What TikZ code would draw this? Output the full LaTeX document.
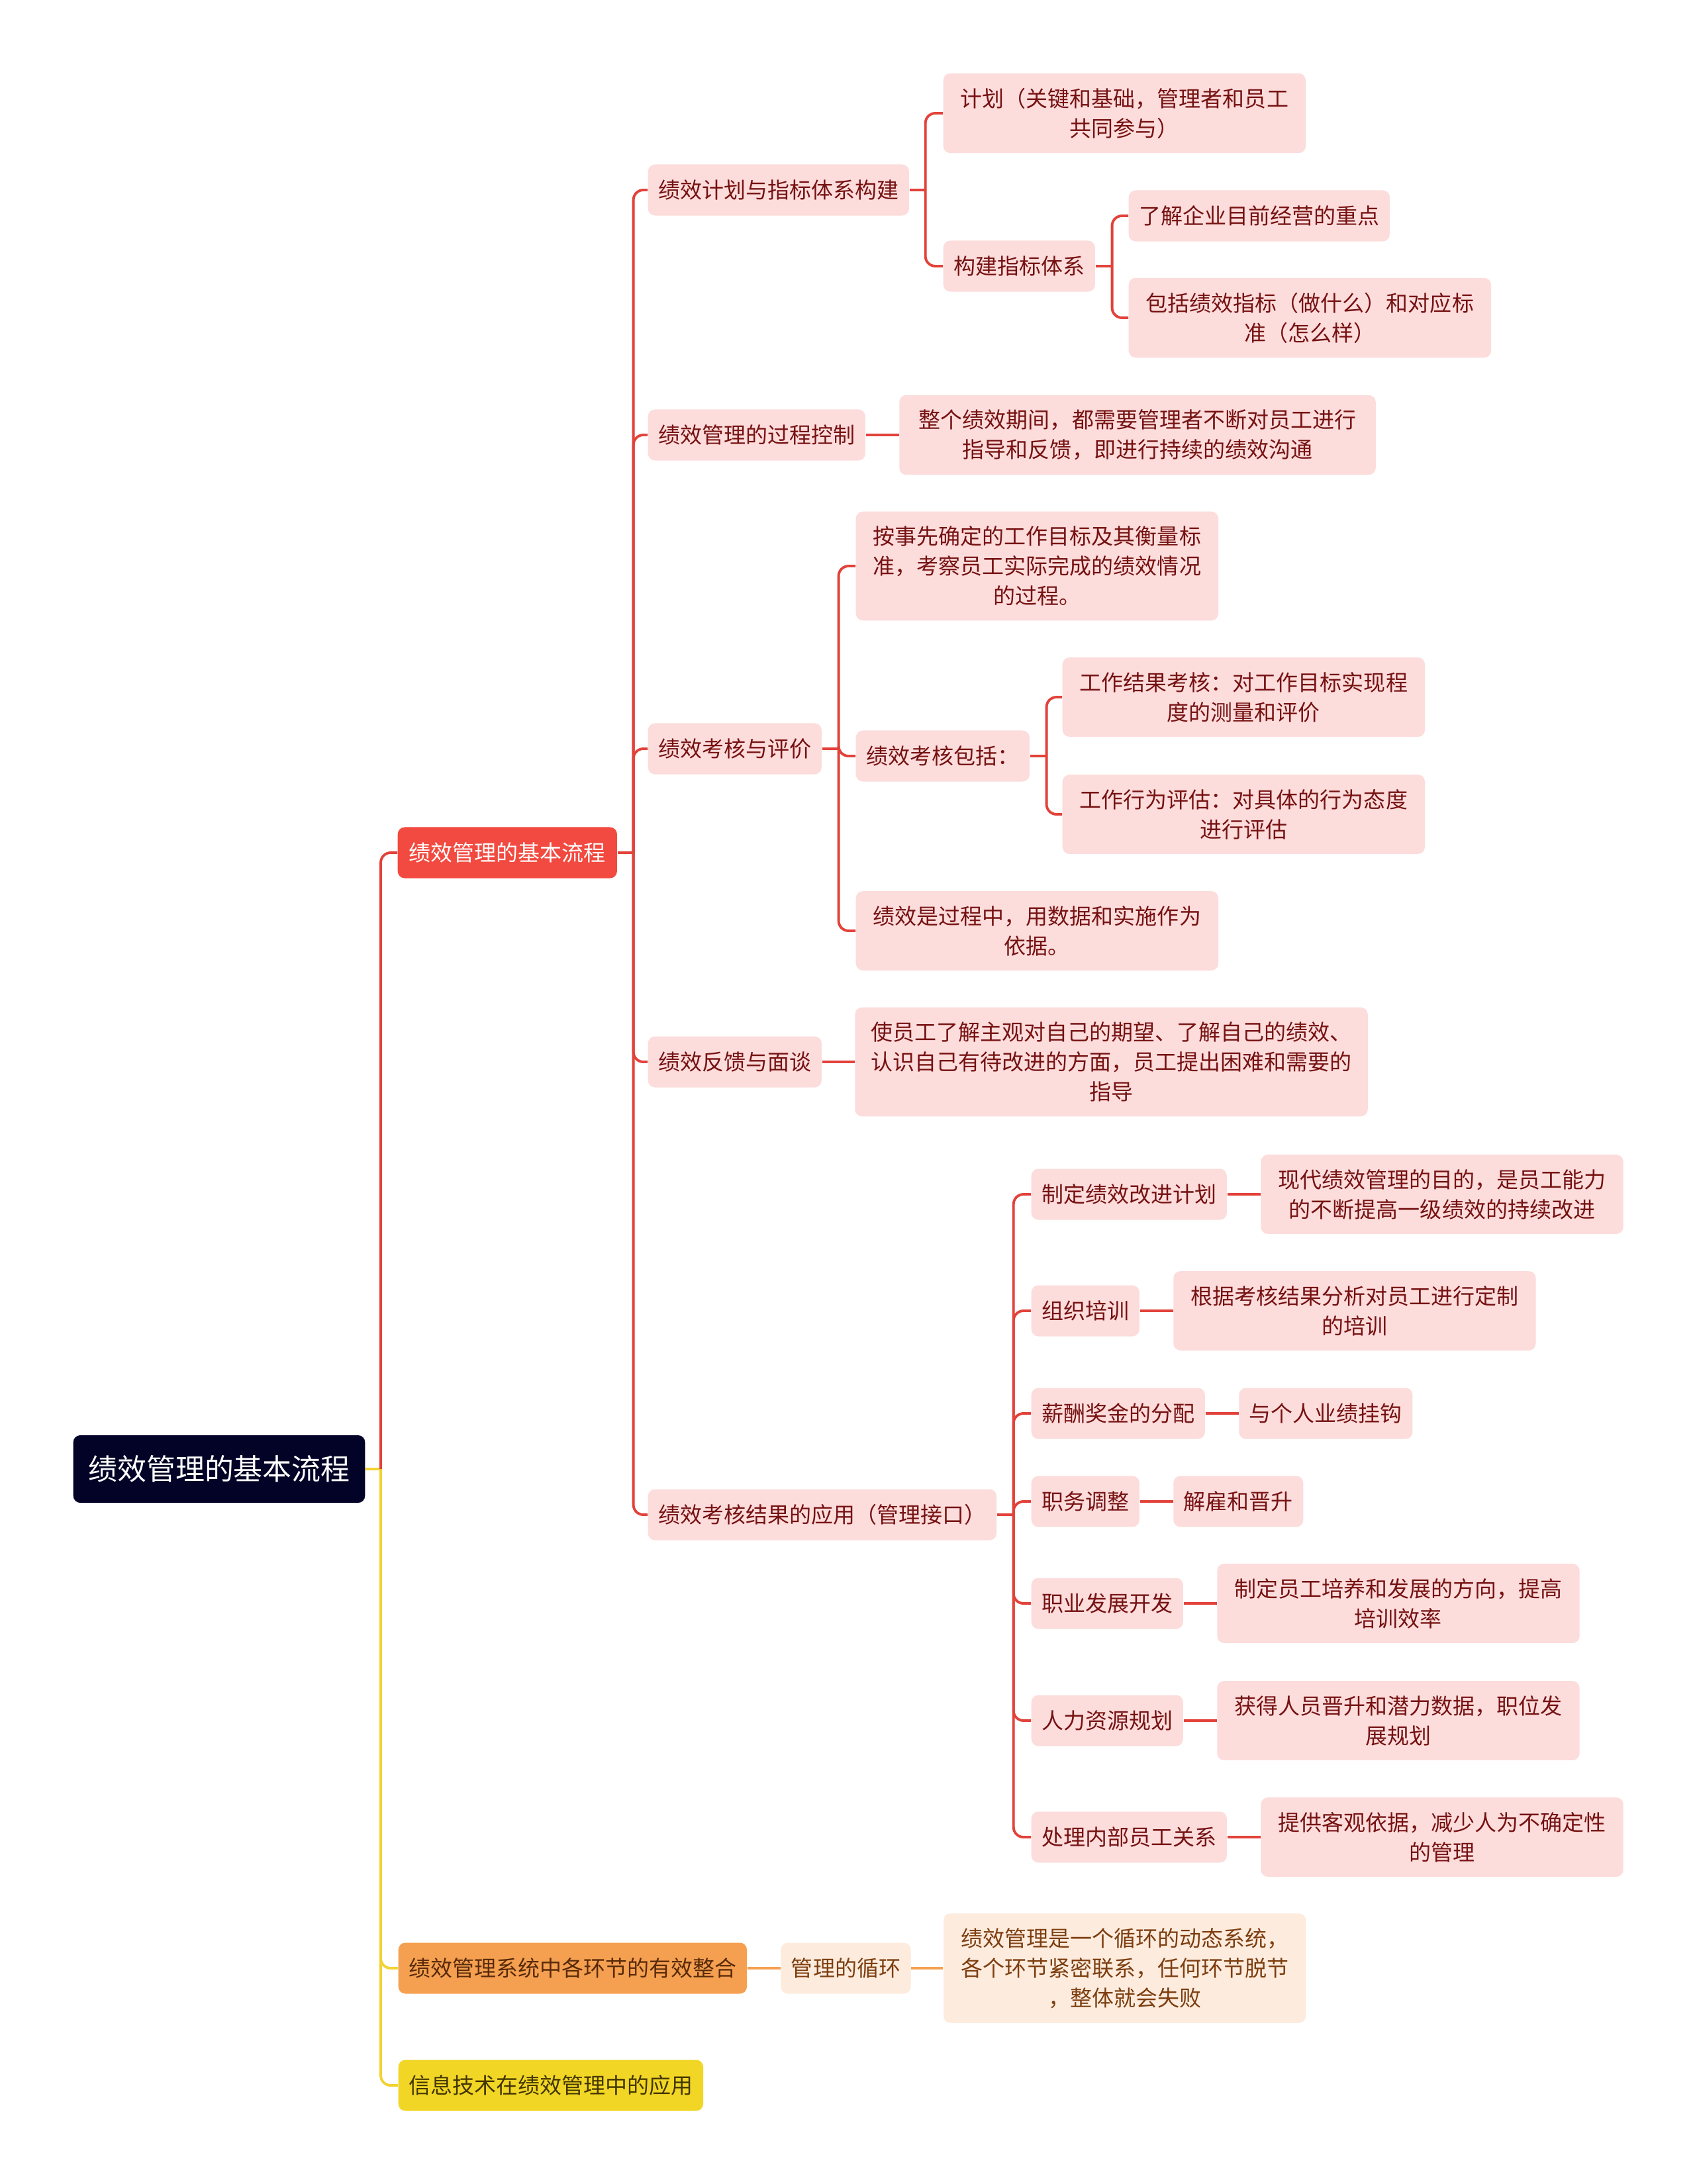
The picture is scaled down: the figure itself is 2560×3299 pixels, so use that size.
\documentclass[tikz,border=0pt]{standalone}
\usepackage{fontspec}
\newfontfamily\cjk{Noto Sans CJK SC}
\usepackage{tikz}
\usetikzlibrary{positioning}
\definecolor{rootnavy}{RGB}{2,3,38}
\definecolor{mainfill}{RGB}{242,74,64}
\definecolor{linkred}{RGB}{226,66,58}
\definecolor{leafpink}{RGB}{253,220,220}
\definecolor{leaftext}{RGB}{118,18,18}
\definecolor{orangefill}{RGB}{245,160,80}
\definecolor{orangetext}{RGB}{88,42,10}
\definecolor{linkorange}{RGB}{245,160,80}
\definecolor{peachfill}{RGB}{253,236,222}
\definecolor{peachtext}{RGB}{125,62,16}
\definecolor{yellowfill}{RGB}{242,214,38}
\definecolor{yellowtext}{RGB}{66,54,0}
\definecolor{linkyellow}{RGB}{242,210,50}

\begin{document}
\begin{tikzpicture}[
    x=0.01cm, y=-0.01cm,
    box/.style={rectangle, rounded corners=3pt, anchor=west, align=center,
                font=\cjk\fontsize{9.39pt}{12.8pt}\selectfont,
                inner xsep=0.155cm, inner ysep=0.22cm, minimum height=0.77cm},
    leaf/.style={box, fill=leafpink, text=leaftext},
    wide/.style={leaf, text width=5.16cm},
    redlink/.style={draw=linkred, line width=1.1pt, rounded corners=0.15cm},
    orangelink/.style={redlink, draw=linkorange},
    yellowlink/.style={redlink, draw=linkyellow}
]
\useasboundingbox[fill=white] (0,0) rectangle (2560,3299);

% root and first level
\node[box, anchor=center, fill=rootnavy, text=white,
      font=\cjk\fontsize{12.5pt}{15pt}\selectfont,
      inner xsep=0.225cm, minimum height=1.02cm] (rootbox) at (331,2219) {绩效管理的基本流程};
\node[box, fill=mainfill, text=white, inner xsep=0.17cm] (flow) at (600,1288) {绩效管理的基本流程};
\node[box, fill=orangefill, text=orangetext] (integ) at (601,2973) {绩效管理系统中各环节的有效整合};
\node[box, fill=yellowfill, text=yellowtext] (infotech) at (601,3150) {信息技术在绩效管理中的应用};
\node[box, fill=peachfill, text=peachtext, right=0.5cm of integ] (cycle) {管理的循环};
\node[box, fill=peachfill, text=peachtext, text width=5.16cm, right=0.48cm of cycle] (cycledesc)
    {绩效管理是一个循环的动态系统，\\各个环节紧密联系，任何环节脱节\\，整体就会失败};

% second level
\node[leaf] (plan) at (978,287) {绩效计划与指标体系构建};
\node[leaf] (proc) at (978,657) {绩效管理的过程控制};
\node[leaf] (eval) at (978,1131) {绩效考核与评价};
\node[leaf] (feed) at (978,1604) {绩效反馈与面谈};
\node[leaf] (apply) at (978,2288) {绩效考核结果的应用（管理接口）};

\node[wide] (plandesc) at (1424,171) {计划（关键和基础，管理者和员工\\共同参与）};
\node[leaf] (build) at (1424,402) {构建指标体系};
\node[leaf] (focus) at (1704,326) {了解企业目前经营的重点};
\node[wide] (indic) at (1704,480) {包括绩效指标（做什么）和对应标\\准（怎么样）};

\node[leaf, text width=6.88cm, right=0.5cm of proc] (procdesc)
    {整个绩效期间，都需要管理者不断对员工进行\\指导和反馈，即进行持续的绩效沟通};

\node[wide] (evaldef) at (1292,855) {按事先确定的工作目标及其衡量标\\准，考察员工实际完成的绩效情况\\的过程。};
\node[leaf] (evalinc) at (1292,1142) {绩效考核包括：};
\node[wide] (evalbasis) at (1292,1406) {绩效是过程中，用数据和实施作为\\依据。};
\node[wide] (result) at (1604,1053) {工作结果考核：对工作目标实现程\\度的测量和评价};
\node[wide] (behav) at (1604,1230) {工作行为评估：对具体的行为态度\\进行评估};

\node[leaf, text width=7.43cm, right=0.49cm of feed] (feeddesc)
    {使员工了解主观对自己的期望、了解自己的绩效、\\认识自己有待改进的方面，员工提出困难和需要的\\指导};

\node[leaf] (improve) at (1557,1804) {制定绩效改进计划};
\node[leaf] (train) at (1557,1980) {组织培训};
\node[leaf] (pay) at (1557,2135) {薪酬奖金的分配};
\node[leaf] (post) at (1557,2268) {职务调整};
\node[leaf] (career) at (1557,2422) {职业发展开发};
\node[leaf] (hrplan) at (1557,2599) {人力资源规划};
\node[leaf] (relation) at (1557,2775) {处理内部员工关系};

\node[wide, right=0.5cm of improve] (improvedesc) {现代绩效管理的目的，是员工能力\\的不断提高一级绩效的持续改进};
\node[wide, right=0.5cm of train] (traindesc) {根据考核结果分析对员工进行定制\\的培训};
\node[leaf, right=0.5cm of pay] (paydesc) {与个人业绩挂钩};
\node[leaf, right=0.5cm of post] (postdesc) {解雇和晋升};
\node[wide, right=0.5cm of career] (careerdesc) {制定员工培养和发展的方向，提高\\培训效率};
\node[wide, right=0.5cm of hrplan] (hrplandesc) {获得人员晋升和潜力数据，职位发\\展规划};
\node[wide, right=0.5cm of relation] (relationdesc) {提供客观依据，减少人为不确定性\\的管理};

% connectors
\draw[yellowlink] (rootbox.east) -- ++(0.23cm,0) coordinate (trunk);
\draw[redlink] (trunk) |- (flow.west);
\draw[yellowlink] (trunk) |- (integ.west);
\draw[yellowlink] (trunk) |- (infotech.west);
\draw[orangelink] (integ.east) -- (cycle.west);
\draw[orangelink] (cycle.east) -- (cycledesc.west);

\draw[redlink] (flow.east) -- ++(0.24cm,0) coordinate (flow-j);
\foreach \c in {plan,proc,eval,feed,apply} \draw[redlink] (flow-j) |- (\c.west);

\draw[redlink] (plan.east) -- ++(0.24cm,0) coordinate (plan-j);
\foreach \c in {plandesc,build} \draw[redlink] (plan-j) |- (\c.west);
\draw[redlink] (build.east) -- ++(0.25cm,0) coordinate (build-j);
\foreach \c in {focus,indic} \draw[redlink] (build-j) |- (\c.west);

\draw[redlink] (proc.east) -- (procdesc.west);

\draw[redlink] (eval.east) -- ++(0.25cm,0) coordinate (eval-j);
\foreach \c in {evaldef,evalinc,evalbasis} \draw[redlink] (eval-j) |- (\c.west);
\draw[redlink] (evalinc.east) -- ++(0.25cm,0) coordinate (evalinc-j);
\foreach \c in {result,behav} \draw[redlink] (evalinc-j) |- (\c.west);

\draw[redlink] (feed.east) -- (feeddesc.west);

\draw[redlink] (apply.east) -- ++(0.25cm,0) coordinate (apply-j);
\foreach \c in {improve,train,pay,post,career,hrplan,relation} \draw[redlink] (apply-j) |- (\c.west);
\foreach \c in {improve,train,pay,post,career,hrplan,relation} \draw[redlink] (\c.east) -- (\c desc.west);
\end{tikzpicture}
\end{document}
